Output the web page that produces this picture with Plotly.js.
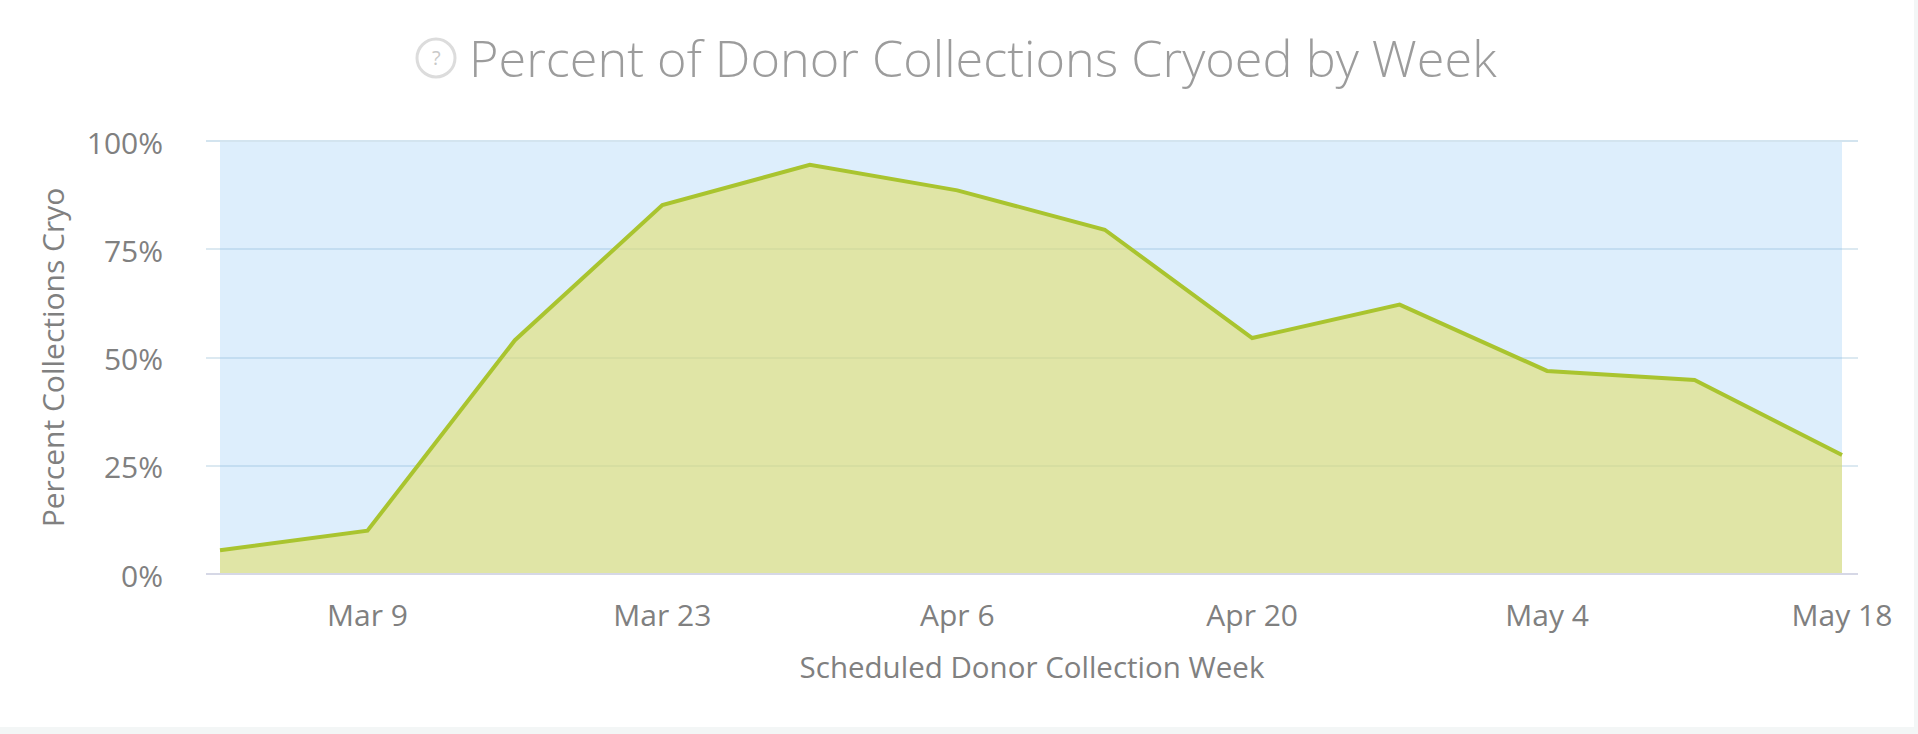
<!DOCTYPE html>
<html>
<head>
<meta charset="utf-8">
<script src="https://cdn.plot.ly/plotly-3.0.1.min.js"></script>
<style>
html,body{margin:0;padding:0;background:#f3f6f6;overflow:hidden}
#chart{width:1914px;height:727px;background:#fff}
</style>
</head>
<body>
<div id="chart"></div>
<script>
const weeks = ['2020-03-02','2020-03-09','2020-03-16','2020-03-23','2020-03-30','2020-04-06','2020-04-13','2020-04-20','2020-04-27','2020-05-04','2020-05-11','2020-05-18'];
const percentCryo = [5.5,10,54,85.2,94.5,88.6,79.5,54.5,62.2,46.9,44.8,27.5];
const fullScale = [100,100,100,100,100,100,100,100,100,100,100,100];
const xTickVals = ['2020-03-09','2020-03-23','2020-04-06','2020-04-20','2020-05-04','2020-05-18'];
const xTickText = ['Mar 9','Mar 23','Apr 6','Apr 20','May 4','May 18'];
const yTickVals = [0,25,50,75,100];
const yTickText = ['0%','25%','50%','75%','100%'];
const chartTitle = 'Percent of Donor Collections Cryoed by Week';
const xTitle = 'Scheduled Donor Collection Week';
const yTitle = 'Percent Collections Cryo';

const W = 1914, H = 727, L = 206, R = 56, T = 141, B = 153;
const pw = W - L - R, ph = H - T - B;
const fx = px => (px - L) / pw;
const fy = py => 1 - (py - T) / ph;
const textFont = '"Open Sans", sans-serif';

const traces = [
  {x: weeks, y: fullScale, type: 'scatter', mode: 'lines', line: {width: 0},
   fill: 'tozeroy', fillcolor: 'rgba(124,190,245,0.26)', hoverinfo: 'skip', showlegend: false},
  {x: weeks, y: percentCryo, type: 'scatter', mode: 'lines',
   line: {color: '#a9c42f', width: 4, shape: 'linear'},
   fill: 'tozeroy', fillcolor: 'rgba(226,223,109,0.6)', showlegend: false}
];

const layout = {
  width: W, height: H,
  margin: {l: L, r: R, t: T, b: B, pad: 0},
  paper_bgcolor: '#ffffff', plot_bgcolor: 'rgba(0,0,0,0)',
  showlegend: false,
  title: {text: chartTitle, font: {family: textFont, size: 50.4, color: '#9c9c9c', weight: 300},
          xref: 'paper', x: fx(469), xanchor: 'left', yref: 'container', y: 1 - 59 / H, yanchor: 'middle', pad: {t: 0, b: 0, l: 0, r: 0}},
  xaxis: {type: 'date', range: ['2020-03-01 08:02', '2020-05-18 18:14'],
          tickmode: 'array', tickvals: xTickVals, ticktext: xTickText,
          showgrid: false, zeroline: false, showline: false, ticks: '',
          ticklabelstandoff: 21,
          tickfont: {family: textFont, size: 30, color: '#808080'},
          title: {text: xTitle, font: {family: textFont, size: 29.5, color: '#808080'}, standoff: 23}},
  yaxis: {range: [0, 100], tickmode: 'array', tickvals: yTickVals, ticktext: yTickText,
          showgrid: true, gridcolor: '#dce9f1', gridwidth: 2, zeroline: false, showline: false, ticks: '',
          ticklabelstandoff: 42, ticklabelshift: 2,
          tickfont: {family: textFont, size: 30, color: '#808080'},
          title: {text: yTitle, font: {family: textFont, size: 30, color: '#808080'}, standoff: 13}},
  shapes: [
    {type: 'circle', xref: 'paper', yref: 'paper', x0: fx(417), x1: fx(455), y0: fy(39), y1: fy(77),
     line: {color: '#dcdcdc', width: 3}, fillcolor: 'rgba(0,0,0,0)'},
    {type: 'line', xref: 'paper', yref: 'paper', x0: 0, x1: 1, y0: 1, y1: 1,
     line: {color: '#d3e4ef', width: 2}},
    {type: 'line', xref: 'paper', yref: 'paper', x0: 0, x1: 1, y0: 0, y1: 0,
     line: {color: '#d6d8e6', width: 2}}
  ],
  annotations: [
    {text: '?', xref: 'paper', yref: 'paper', x: fx(436), y: fy(58), showarrow: false,
     xanchor: 'center', yanchor: 'middle', font: {family: textFont, size: 20, color: '#c9c9c9'}}
  ]
};

Plotly.newPlot('chart', traces, layout, {displayModeBar: false, responsive: false});
</script>
</body>
</html>
